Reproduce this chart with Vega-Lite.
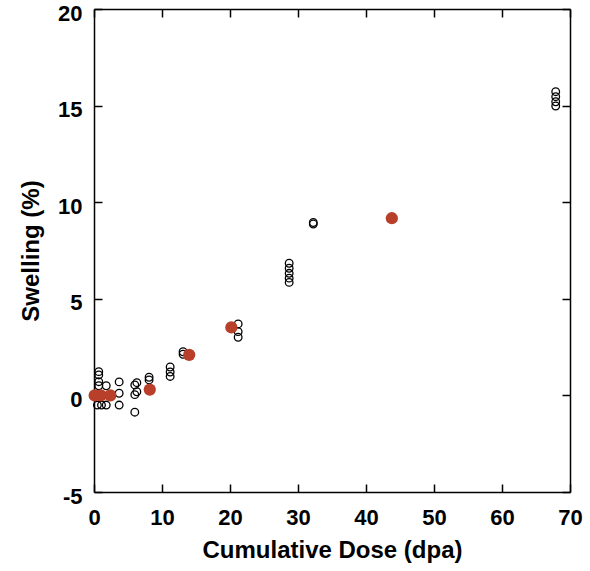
{
  "$schema": "https://vega.github.io/schema/vega-lite/v6.json",
  "width": 476,
  "height": 483,
  "autosize": {"type": "none"},
  "padding": {"left": 94, "top": 9, "right": 20, "bottom": 79},
  "background": "white",
  "config": {
    "view": {"stroke": null},
    "axis": {
      "grid": false,
      "domainColor": "black",
      "domainWidth": 1.5,
      "tickColor": "black",
      "tickWidth": 1.5,
      "tickSize": -8,
      "labelFont": "Liberation Sans",
      "labelFontSize": 22,
      "labelFontWeight": "bold",
      "labelColor": "black",
      "titleFont": "Liberation Sans",
      "titleFontSize": 24,
      "titleFontWeight": "bold",
      "titleColor": "black"
    }
  },
  "data": {
    "values": [
      {"dose": 0.7, "swelling": 1.23, "s": "open"},
      {"dose": 0.7, "swelling": 1.06, "s": "open"},
      {"dose": 0.7, "swelling": 0.71, "s": "open"},
      {"dose": 0.7, "swelling": 0.5, "s": "open"},
      {"dose": 0.5, "swelling": -0.5, "s": "open"},
      {"dose": 1.1, "swelling": -0.5, "s": "open"},
      {"dose": 1.8, "swelling": -0.5, "s": "open"},
      {"dose": 1.8, "swelling": 0.5, "s": "open"},
      {"dose": 3.7, "swelling": 0.7, "s": "open"},
      {"dose": 3.7, "swelling": 0.11, "s": "open"},
      {"dose": 3.7, "swelling": -0.5, "s": "open"},
      {"dose": 6.0, "swelling": 0.54, "s": "open"},
      {"dose": 6.3, "swelling": 0.66, "s": "open"},
      {"dose": 6.0, "swelling": 0.04, "s": "open"},
      {"dose": 6.3, "swelling": 0.19, "s": "open"},
      {"dose": 6.0, "swelling": -0.87, "s": "open"},
      {"dose": 8.1, "swelling": 0.94, "s": "open"},
      {"dose": 8.1, "swelling": 0.8, "s": "open"},
      {"dose": 11.2, "swelling": 1.47, "s": "open"},
      {"dose": 11.2, "swelling": 1.21, "s": "open"},
      {"dose": 11.2, "swelling": 0.98, "s": "open"},
      {"dose": 13.1, "swelling": 2.26, "s": "open"},
      {"dose": 13.1, "swelling": 2.13, "s": "open"},
      {"dose": 21.2, "swelling": 3.7, "s": "open"},
      {"dose": 21.2, "swelling": 3.3, "s": "open"},
      {"dose": 21.2, "swelling": 3.01, "s": "open"},
      {"dose": 28.7, "swelling": 6.84, "s": "open"},
      {"dose": 28.7, "swelling": 6.58, "s": "open"},
      {"dose": 28.7, "swelling": 6.32, "s": "open"},
      {"dose": 28.7, "swelling": 6.07, "s": "open"},
      {"dose": 28.7, "swelling": 5.85, "s": "open"},
      {"dose": 32.25, "swelling": 8.95, "s": "open"},
      {"dose": 32.25, "swelling": 8.87, "s": "open"},
      {"dose": 67.9, "swelling": 15.72, "s": "open"},
      {"dose": 67.9, "swelling": 15.46, "s": "open"},
      {"dose": 67.9, "swelling": 15.2, "s": "open"},
      {"dose": 67.9, "swelling": 14.98, "s": "open"},
      {"dose": 0.1, "swelling": 0.0, "s": "mean"},
      {"dose": 1.0, "swelling": 0.0, "s": "mean"},
      {"dose": 2.4, "swelling": 0.0, "s": "mean"},
      {"dose": 8.2, "swelling": 0.3, "s": "mean"},
      {"dose": 14.0, "swelling": 2.1, "s": "mean"},
      {"dose": 20.2, "swelling": 3.52, "s": "mean"},
      {"dose": 43.8, "swelling": 9.17, "s": "mean"}
    ]
  },
  "layer": [
    {
      "transform": [{"filter": "datum.s == 'open'"}],
      "mark": {"type": "point", "shape": "circle", "filled": false, "stroke": "black", "strokeWidth": 1.3, "size": 58, "opacity": 1},
      "encoding": {
        "x": {"field": "dose", "type": "quantitative", "scale": {"domain": [0, 70], "nice": false, "zero": false},
              "axis": {"orient": "bottom", "values": [0, 10, 20, 30, 40, 50, 60, 70], "format": "d", "title": "Cumulative Dose (dpa)", "labelPadding": 23, "titlePadding": 10, "labelFlush": false, "labelOverlap": false}},
        "y": {"field": "swelling", "type": "quantitative", "scale": {"domain": [-5, 20], "nice": false, "zero": false},
              "axis": {"orient": "left", "values": [-5, 0, 5, 10, 15, 20], "labelExpr": "datum.value < 0 ? '-5' : datum.label", "labelOffset": 4, "title": "Swelling (%)", "labelPadding": 20, "titlePadding": 14}}
      }
    },
    {
      "transform": [{"filter": "datum.s == 'mean'"}],
      "mark": {"type": "circle", "color": "#b8402a", "size": 150, "opacity": 1},
      "encoding": {
        "x": {"field": "dose", "type": "quantitative", "scale": {"domain": [0, 70], "nice": false, "zero": false},
              "axis": {"orient": "top", "values": [0, 10, 20, 30, 40, 50, 60, 70], "labels": false, "title": null}},
        "y": {"field": "swelling", "type": "quantitative", "scale": {"domain": [-5, 20], "nice": false, "zero": false},
              "axis": {"orient": "right", "values": [-5, 0, 5, 10, 15, 20], "labels": false, "title": null}}
      }
    }
  ],
  "resolve": {"axis": {"x": "independent", "y": "independent"}}
}
